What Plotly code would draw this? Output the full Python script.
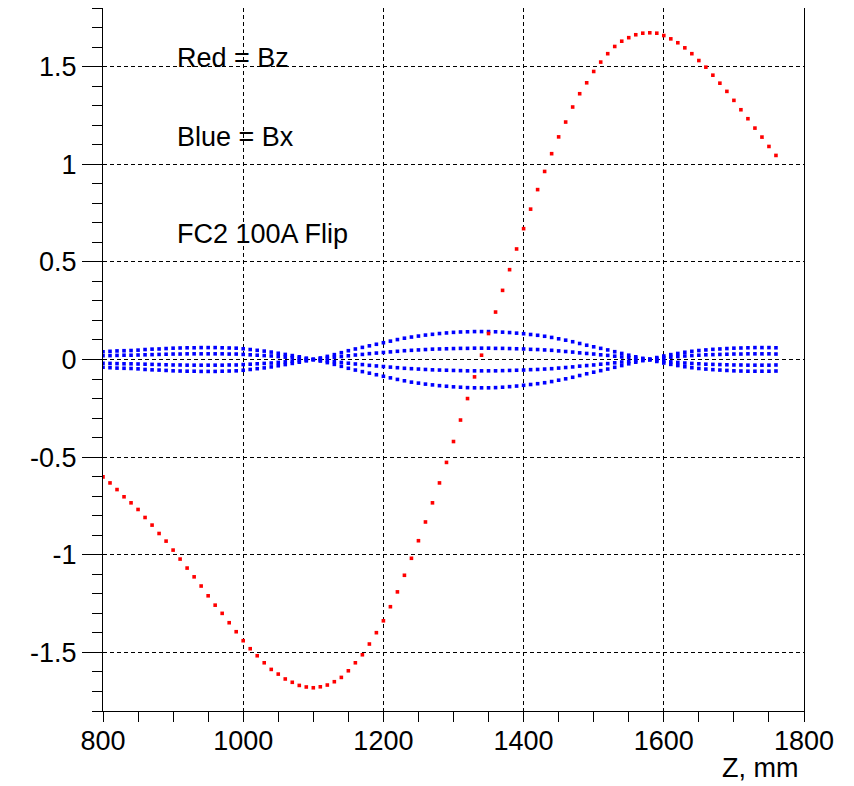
import plotly.graph_objects as go

# Z positions (mm), 10 mm step
z_mm = list(range(800, 1770, 10))

# Red = Bz
bz = [
    -0.601, -0.632, -0.666, -0.703, -0.734, -0.768, -0.809, -0.848, -0.891, -0.930,
    -0.976, -1.022, -1.068, -1.113, -1.160, -1.210, -1.258, -1.300, -1.348, -1.394,
    -1.440, -1.481, -1.517, -1.553, -1.587, -1.611, -1.636, -1.653, -1.669, -1.677,
    -1.681, -1.676, -1.667, -1.650, -1.628, -1.594, -1.553, -1.512, -1.457, -1.399,
    -1.338, -1.266, -1.190, -1.105, -1.018, -0.928, -0.832, -0.734, -0.632, -0.527,
    -0.420, -0.310, -0.200, -0.089, 0.022, 0.133, 0.243, 0.354, 0.460, 0.566,
    0.670, 0.770, 0.870, 0.963, 1.054, 1.140, 1.216, 1.293, 1.361, 1.417,
    1.475, 1.523, 1.566, 1.603, 1.630, 1.648, 1.663, 1.671, 1.673, 1.671,
    1.659, 1.642, 1.622, 1.596, 1.566, 1.531, 1.497, 1.456, 1.415, 1.373,
    1.327, 1.279, 1.233, 1.185, 1.139, 1.091, 1.045,
]

# Blue = Bx, four offsets
bx_outer_pos = [
    -0.040, -0.042, -0.044, -0.045, -0.046, -0.048, -0.051, -0.053, -0.054, -0.056,
    -0.058, -0.059, -0.060, -0.060, -0.061, -0.061, -0.061, -0.060, -0.059, -0.058,
    -0.055, -0.051, -0.047, -0.043, -0.038, -0.032, -0.026, -0.020, -0.014, -0.007,
    0.000, 0.008, 0.016, 0.025, 0.035, 0.045, 0.054, 0.062, 0.070, 0.078,
    0.086, 0.094, 0.102, 0.109, 0.115, 0.120, 0.125, 0.129, 0.133, 0.136,
    0.139, 0.141, 0.142, 0.143, 0.143, 0.143, 0.142, 0.140, 0.138, 0.135,
    0.132, 0.128, 0.124, 0.119, 0.113, 0.106, 0.099, 0.091, 0.082, 0.073,
    0.065, 0.057, 0.049, 0.040, 0.031, 0.022, 0.014, 0.006, -0.002, -0.010,
    -0.018, -0.025, -0.031, -0.037, -0.042, -0.046, -0.049, -0.052, -0.054, -0.056,
    -0.058, -0.059, -0.060, -0.060, -0.060, -0.060, -0.059,
]
bx_inner_pos = [
    -0.019, -0.020, -0.021, -0.022, -0.022, -0.023, -0.024, -0.025, -0.026, -0.027,
    -0.028, -0.028, -0.029, -0.029, -0.029, -0.029, -0.029, -0.029, -0.028, -0.028,
    -0.026, -0.024, -0.022, -0.020, -0.018, -0.015, -0.012, -0.009, -0.006, -0.003,
    0.000, 0.004, 0.007, 0.011, 0.015, 0.019, 0.023, 0.026, 0.030, 0.033,
    0.036, 0.039, 0.042, 0.045, 0.047, 0.049, 0.051, 0.053, 0.054, 0.055,
    0.056, 0.057, 0.057, 0.058, 0.058, 0.058, 0.057, 0.057, 0.056, 0.055,
    0.054, 0.052, 0.051, 0.049, 0.047, 0.044, 0.041, 0.038, 0.034, 0.031,
    0.028, 0.024, 0.021, 0.017, 0.013, 0.010, 0.006, 0.003, -0.001, -0.005,
    -0.008, -0.012, -0.015, -0.018, -0.020, -0.022, -0.024, -0.025, -0.026, -0.027,
    -0.028, -0.028, -0.029, -0.029, -0.029, -0.029, -0.028,
]
bx_inner_neg = [
    0.019, 0.020, 0.021, 0.022, 0.022, 0.023, 0.024, 0.025, 0.026, 0.027,
    0.028, 0.028, 0.029, 0.029, 0.029, 0.029, 0.029, 0.029, 0.028, 0.028,
    0.026, 0.024, 0.022, 0.020, 0.018, 0.015, 0.012, 0.009, 0.006, 0.003,
    0.000, -0.004, -0.007, -0.011, -0.015, -0.019, -0.023, -0.026, -0.030, -0.033,
    -0.036, -0.039, -0.042, -0.045, -0.047, -0.049, -0.051, -0.053, -0.054, -0.055,
    -0.056, -0.057, -0.058, -0.058, -0.058, -0.058, -0.058, -0.057, -0.056, -0.055,
    -0.054, -0.052, -0.051, -0.049, -0.047, -0.044, -0.041, -0.038, -0.034, -0.031,
    -0.028, -0.024, -0.021, -0.017, -0.013, -0.010, -0.006, -0.003, 0.001, 0.005,
    0.008, 0.012, 0.015, 0.018, 0.020, 0.022, 0.024, 0.025, 0.026, 0.027,
    0.028, 0.028, 0.029, 0.029, 0.029, 0.029, 0.028,
]
bx_outer_neg = [
    0.040, 0.042, 0.044, 0.045, 0.046, 0.048, 0.051, 0.053, 0.054, 0.056,
    0.058, 0.059, 0.060, 0.060, 0.061, 0.061, 0.061, 0.060, 0.059, 0.058,
    0.055, 0.051, 0.047, 0.043, 0.038, 0.032, 0.026, 0.020, 0.014, 0.007,
    0.000, -0.008, -0.016, -0.025, -0.035, -0.045, -0.054, -0.062, -0.070, -0.078,
    -0.086, -0.094, -0.102, -0.109, -0.116, -0.121, -0.126, -0.130, -0.134, -0.137,
    -0.140, -0.142, -0.144, -0.145, -0.145, -0.145, -0.144, -0.142, -0.139, -0.136,
    -0.132, -0.128, -0.124, -0.119, -0.113, -0.106, -0.099, -0.091, -0.082, -0.073,
    -0.065, -0.057, -0.049, -0.040, -0.031, -0.022, -0.014, -0.006, 0.002, 0.010,
    0.018, 0.025, 0.031, 0.037, 0.042, 0.046, 0.049, 0.052, 0.054, 0.056,
    0.058, 0.059, 0.060, 0.061, 0.061, 0.061, 0.060,
]

x_tick_vals = [800, 1000, 1200, 1400, 1600, 1800]
x_tick_text = ["800", "1000", "1200", "1400", "1600", "1800"]
y_tick_vals = [-1.5, -1.0, -0.5, 0.0, 0.5, 1.0, 1.5]
y_tick_text = ["-1.5", "-1", "-0.5", "0", "0.5", "1", "1.5"]

labels = ["Red = Bz", "Blue = Bx", "FC2 100A Flip"]
x_title = "Z, mm"

FONT = "Liberation Sans, Arial, Helvetica, sans-serif"
BLUE = "rgb(0,0,255)"
RED = "rgb(255,0,0)"

fig = go.Figure()
for series in (bx_outer_pos, bx_inner_pos, bx_inner_neg, bx_outer_neg):
    fig.add_trace(go.Scatter(x=z_mm, y=series, mode="markers",
                             marker=dict(symbol="square", size=3.6, color=BLUE, line=dict(width=0)),
                             showlegend=False, hoverinfo="skip"))
fig.add_trace(go.Scatter(x=z_mm, y=bz, mode="markers",
                         marker=dict(symbol="square", size=3.6, color=RED, line=dict(width=0)),
                         showlegend=False, hoverinfo="skip"))

# The page body adds an 8 px offset; sizes below compensate for it.
fig.update_layout(
    width=846, height=778,
    margin=dict(l=95, r=50, t=0, b=75, pad=0),
    paper_bgcolor="white", plot_bgcolor="white",
    font=dict(family=FONT, size=27, color="black"),
    showlegend=False,
)
fig.update_xaxes(
    range=[800, 1800], tickmode="array", tickvals=x_tick_vals, ticktext=x_tick_text,
    showline=True, linecolor="black", linewidth=1, mirror=True,
    ticks="outside", ticklen=10, tickwidth=1, tickcolor="black",
    minor=dict(dtick=50, tick0=800, ticks="outside", ticklen=10, tickwidth=1,
               tickcolor="black", showgrid=False),
    showgrid=True, gridcolor="black", gridwidth=1, griddash="4px,3px",
    zeroline=False, tickfont=dict(family=FONT, size=27, color="black"),
    ticklabelstandoff=-4,
)
fig.update_yaxes(
    range=[-1.8, 1.8], tickmode="array", tickvals=y_tick_vals, ticktext=y_tick_text,
    showline=True, linecolor="black", linewidth=1, mirror=True,
    ticks="outside", ticklen=20, tickwidth=1, tickcolor="black",
    minor=dict(dtick=0.1, tick0=0, ticks="outside", ticklen=10, tickwidth=1,
               tickcolor="black", showgrid=False),
    showgrid=True, gridcolor="black", gridwidth=1, griddash="4px,3px",
    zeroline=False, tickfont=dict(family=FONT, size=27, color="black"),
)

for text, ypos in zip(labels, [0.929, 0.816, 0.679]):
    fig.add_annotation(text=text, xref="paper", yref="paper", x=0.1027, y=ypos,
                       xanchor="left", yanchor="middle", showarrow=False,
                       font=dict(family=FONT, size=27, color="black"))

fig.add_annotation(text=x_title, xref="paper", yref="paper", x=0.9943, y=-0.081,
                   xanchor="right", yanchor="middle", showarrow=False,
                   font=dict(family=FONT, size=27, color="black"))

fig.write_html("out.html")
